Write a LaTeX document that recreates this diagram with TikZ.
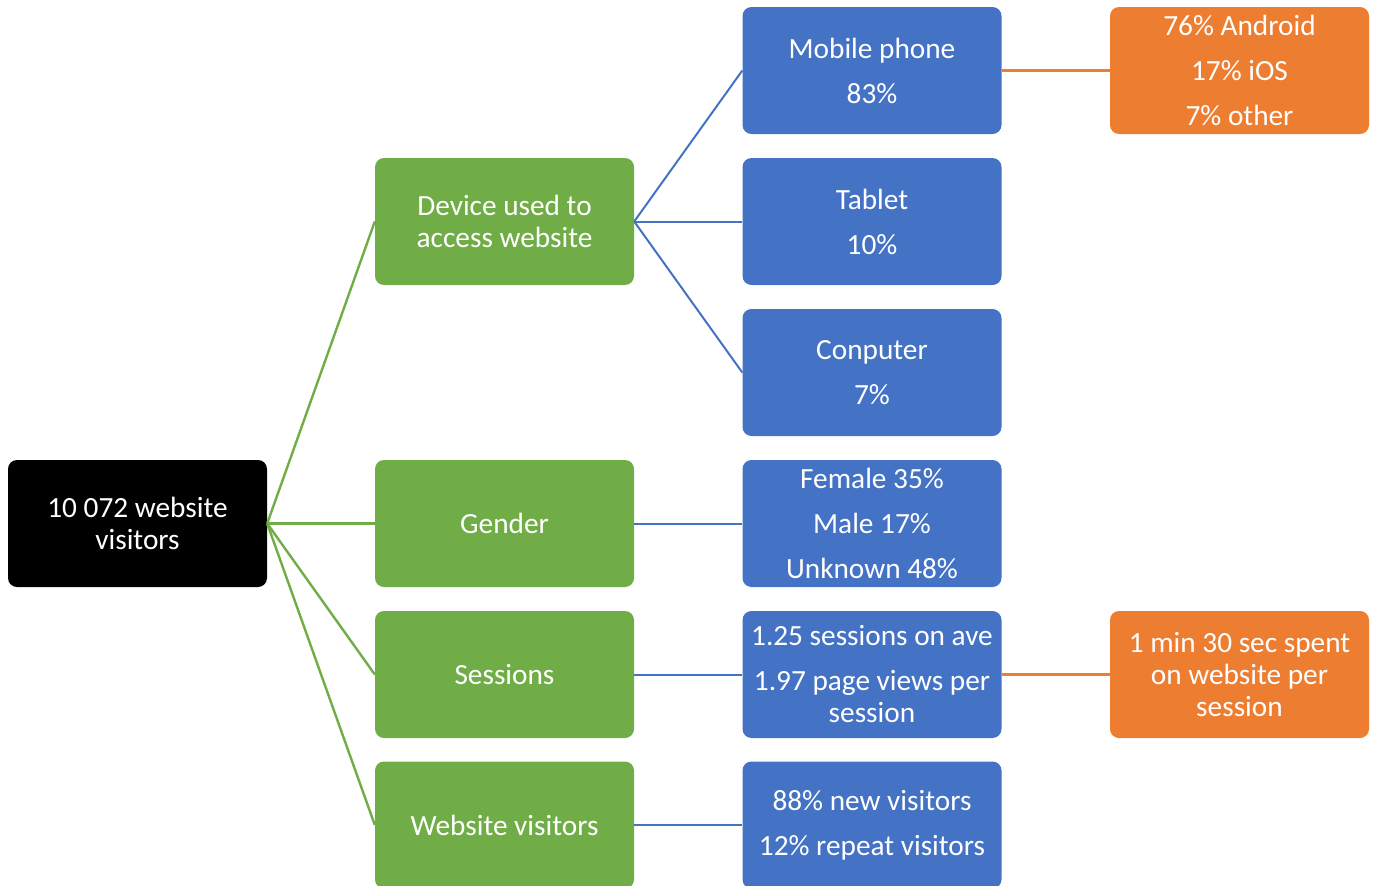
\documentclass[tikz,border=0pt]{standalone}
\usepackage{fontspec}
\setmainfont{Carlito}
\begin{document}
\begin{tikzpicture}[x=1pt,y=-1pt,
  box/.style={rectangle, rounded corners=9pt, minimum width=259pt, minimum height=127pt,
    inner sep=0pt, text=white, align=center, font=\fontsize{29.3}{32}\selectfont},
  rootbox/.style={box, fill=black},
  greenbox/.style={box, fill=grn},
  bluebox/.style={box, fill=blu},
  orangebox/.style={box, fill=org},
  glink/.style={draw=grn, line width=2.4pt},
  blink/.style={draw=blu, line width=2pt},
  olink/.style={draw=org, line width=2.4pt}]
\definecolor{grn}{HTML}{70AD47}
\definecolor{blu}{HTML}{4472C4}
\definecolor{org}{HTML}{ED7D31}
\useasboundingbox (0,0) rectangle (1374,886);

% root
\node[rootbox] (root) at (137.5,523.5) {10 072 website\\visitors};

% categories
\node[greenbox] (device)   at (504.5,221.5) {Device used to\\access website};
\node[greenbox] (gender)   at (504.5,523.5) {Gender};
\node[greenbox] (sessions) at (504.5,674.5) {Sessions};
\node[greenbox] (visits)   at (504.5,825)   {Website visitors};

% details
\node[bluebox] (mobile)   at (872,70.5)  {Mobile phone\\[13pt]83\%};
\node[bluebox] (tablet)   at (872,221.5) {Tablet\\[13pt]10\%};
\node[bluebox] (computer) at (872,372.5) {Conputer\\[13pt]7\%};
\node[bluebox] (sex)      at (872,523.5) {Female 35\%\\[13pt]Male 17\%\\[13pt]Unknown 48\%};
\node[bluebox] (sessinfo) at (872,674.5) {1.25 sessions on ave\\[13pt]1.97 page views per\\session};
\node[bluebox] (visinfo)  at (872,825)   {88\% new visitors\\[13pt]12\% repeat visitors};

% further details
\node[orangebox] (os)   at (1239.5,70.5)  {76\% Android\\[13pt]17\% iOS\\[13pt]7\% other};
\node[orangebox] (time) at (1239.5,674.5) {1 min 30 sec spent\\on website per\\session};

% connectors
\draw[glink] (root.east) -- (device.west);
\draw[glink] (root.east) -- (gender.west);
\draw[glink] (root.east) -- (sessions.west);
\draw[glink] (root.east) -- (visits.west);

\draw[blink] (device.east) -- (mobile.west);
\draw[blink] (device.east) -- (tablet.west);
\draw[blink] (device.east) -- (computer.west);
\draw[blink] (gender.east) -- (sex.west);
\draw[blink] (sessions.east) -- (sessinfo.west);
\draw[blink] (visits.east) -- (visinfo.west);

\draw[olink] (mobile.east) -- (os.west);
\draw[olink] (sessinfo.east) -- (time.west);
\end{tikzpicture}
\end{document}
